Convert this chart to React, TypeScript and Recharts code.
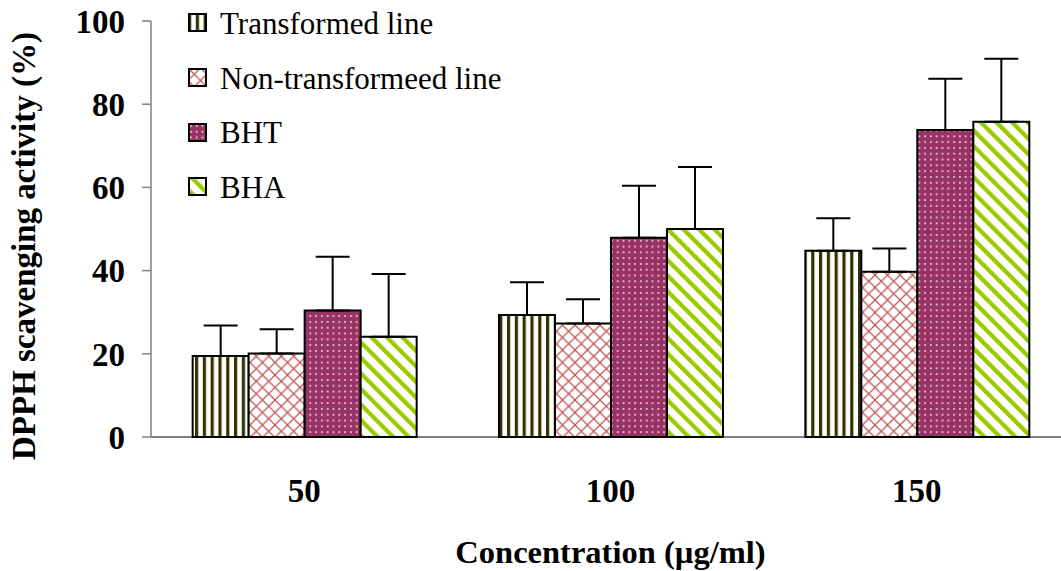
import React from "react";
import {
  BarChart,
  Bar,
  XAxis,
  YAxis,
  Legend,
  ErrorBar,
} from "recharts";

const concentrations = ["50", "100", "150"];
const transformed = [19.5, 29.3, 44.8];
const transformedErr = [7.3, 7.9, 7.8];
const nonTransformed = [20.1, 27.3, 39.7];
const nonTransformedErr = [5.8, 5.8, 5.6];
const bht = [30.4, 47.9, 73.8];
const bhtErr = [12.9, 12.5, 12.3];
const bha = [24.1, 50.0, 75.8];
const bhaErr = [15.1, 14.9, 15.1];
const yTicks = [0, 20, 40, 60, 80, 100];

const FONT = "Liberation Serif, Tinos, Times New Roman, DejaVu Serif, serif";

// one-sided (upward) error bars: [lower, upper]
const data = concentrations.map((name, i) => ({
  name,
  transformed: transformed[i],
  transformedErr: [0, transformedErr[i]],
  nonTransformed: nonTransformed[i],
  nonTransformedErr: [0, nonTransformedErr[i]],
  bht: bht[i],
  bhtErr: [0, bhtErr[i]],
  bha: bha[i],
  bhaErr: [0, bhaErr[i]],
}));

const seriesOrder = ["transformed", "nonTransformed", "bht", "bha"];

const fills: Record<string, string> = {
  transformed: "url(#vstripes)",
  nonTransformed: "url(#crosshatch)",
  bht: "url(#dots)",
  bha: "url(#dstripes)",
};

const renderLegend = (props: any) => {
  const items = [...(props.payload || [])].sort(
    (a: any, b: any) => seriesOrder.indexOf(a.dataKey) - seriesOrder.indexOf(b.dataKey)
  );
  return (
    <div style={{ fontFamily: FONT, fontSize: 31, color: "#000" }}>
      {items.map((entry: any) => (
        <div
          key={entry.value}
          style={{ display: "flex", alignItems: "center", height: 54.7 }}
        >
          <svg width={20} height={20} style={{ marginRight: 12 }}>
            <rect
              x={1}
              y={1}
              width={17}
              height={17}
              fill={fills[entry.dataKey]}
              stroke="#000"
              strokeWidth={2}
            />
          </svg>
          <span style={{ lineHeight: 1 }}>{entry.value}</span>
        </div>
      ))}
    </div>
  );
};

const YTitle = () => (
  <text
    x={35}
    y={246}
    transform="rotate(-90, 35, 246)"
    textAnchor="middle"
    fontFamily={FONT}
    fontSize={33}
    fontWeight="bold"
    fill="#000"
  >
    DPPH scavenging activity (%)
  </text>
);

const App = () => {
  return (
    <div
      style={{
        position: "absolute",
        left: 0,
        top: 0,
        width: 1061,
        height: 571,
        overflow: "hidden",
        background: "#fff",
        fontFamily: FONT,
      }}
    >
      <BarChart
        width={1075}
        height={571}
        data={data}
        margin={{ top: 21, right: 5, bottom: 0, left: 0 }}
        barCategoryGap="13.6%"
        barGap={0}
      >
        <defs>
          <pattern id="vstripes" width={7.8} height={10} patternUnits="userSpaceOnUse">
            <rect width={7.8} height={10} fill="#fff" />
            <rect x={0} width={3.2} height={10} fill="#333300" />
          </pattern>
          <pattern id="crosshatch" width={12.5} height={12.5} patternUnits="userSpaceOnUse">
            <rect width={12.5} height={12.5} fill="#fff" />
            <path d="M0,0 L12.5,12.5 M12.5,0 L0,12.5" stroke="#c0504d" strokeWidth={1.2} />
          </pattern>
          <pattern id="dots" width={5.8} height={5.8} patternUnits="userSpaceOnUse">
            <rect width={5.8} height={5.8} fill="#993366" />
            <circle cx={2.9} cy={2.9} r={1} fill="#f3d6e6" />
          </pattern>
          <pattern
            id="dstripes"
            width={11}
            height={11}
            patternUnits="userSpaceOnUse"
            patternTransform="rotate(-45)"
          >
            <rect width={11} height={11} fill="#fff" />
            <rect x={0} width={4.3} height={11} fill="#99cc00" />
          </pattern>
        </defs>
        <XAxis
          xAxisId="edges"
          type="number"
          domain={[0, 3]}
          ticks={[0, 1, 2, 3]}
          allowDataOverflow
          height={0}
          axisLine={false}
          tick={false}
          tickSize={10}
          tickLine={{ stroke: "#808080", strokeWidth: 1.5 }}
        />
        <XAxis
          dataKey="name"
          height={134}
          axisLine={{ stroke: "#000", strokeWidth: 1 }}
          tickLine={false}
          tickSize={0}
          tickMargin={42}
          tick={{ fontFamily: FONT, fontSize: 33, fontWeight: "bold", fill: "#000" }}
          label={{
            value: "Concentration (\u00b5g/ml)",
            position: "insideBottom",
            offset: 8,
            fontFamily: FONT,
            fontSize: 32.5,
            fontWeight: "bold",
            fill: "#000",
          }}
        />
        <YAxis
          width={151}
          domain={[0, 100]}
          ticks={yTicks}
          interval={0}
          axisLine={{ stroke: "#808080", strokeWidth: 1.5 }}
          tickLine={{ stroke: "#808080", strokeWidth: 1.5 }}
          tickSize={9}
          tickMargin={17}
          tick={{ fontFamily: FONT, fontSize: 33, fontWeight: "bold", fill: "#000" }}
          label={<YTitle />}
        />
        <Legend
          layout="vertical"
          align="center"
          verticalAlign="middle"
          wrapperStyle={{ left: 188, top: -4, width: 450 }}
          content={renderLegend}
        />
        <Bar
          dataKey="transformed"
          name="Transformed line"
          fill="url(#vstripes)"
          stroke="#000"
          strokeWidth={2}
          isAnimationActive={false}
        >
          <ErrorBar dataKey="transformedErr" width={17} stroke="#000" strokeWidth={2} direction="y" />
        </Bar>
        <Bar
          dataKey="nonTransformed"
          name="Non-transformeed line"
          fill="url(#crosshatch)"
          stroke="#000"
          strokeWidth={2}
          isAnimationActive={false}
        >
          <ErrorBar dataKey="nonTransformedErr" width={17} stroke="#000" strokeWidth={2} direction="y" />
        </Bar>
        <Bar
          dataKey="bht"
          name="BHT"
          fill="url(#dots)"
          stroke="#000"
          strokeWidth={2}
          isAnimationActive={false}
        >
          <ErrorBar dataKey="bhtErr" width={17} stroke="#000" strokeWidth={2} direction="y" />
        </Bar>
        <Bar
          dataKey="bha"
          name="BHA"
          fill="url(#dstripes)"
          stroke="#000"
          strokeWidth={2}
          isAnimationActive={false}
        >
          <ErrorBar dataKey="bhaErr" width={17} stroke="#000" strokeWidth={2} direction="y" />
        </Bar>
      </BarChart>
    </div>
  );
};

export default App;
